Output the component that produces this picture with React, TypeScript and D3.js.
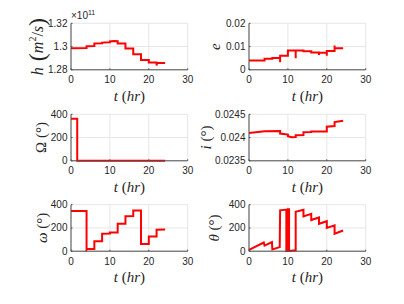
import * as d3 from "d3";

const W = 404;
const H = 304;

// shared time axis
const timeDomain = [0, 30];
const timeTicks = [0, 10, 20, 30];

// h (x 1e11 m^2/s)
const hTime = [0, 4, 4, 6, 6, 8, 8, 10, 10, 11, 12, 12, 14, 14, 16, 16, 18, 18, 20, 20, 22, 22, 22.1, 24.2];
const hValue = [1.2986, 1.2988, 1.3003, 1.3005, 1.3026, 1.3028, 1.3034, 1.3036, 1.3044, 1.3047, 1.3046, 1.3026, 1.3026, 1.2984, 1.2984, 1.2934, 1.2934, 1.2884, 1.2884, 1.2862, 1.2862, 1.2837, 1.2858, 1.2859];
const hTicks = [1.28, 1.3, 1.32];
const hTickLabels = ["1.28", "1.3", "1.32"];

// e
const eTime = [0, 4, 4, 6, 6, 8, 8, 8, 10, 10, 12, 12, 12, 14, 14, 16, 16, 18, 18, 18, 20, 20, 20, 22, 22, 22, 24.2];
const eValue = [0.004, 0.004, 0.0047, 0.0047, 0.0051, 0.0051, 0.0033, 0.006, 0.006, 0.0083, 0.0083, 0.005, 0.0083, 0.0083, 0.008, 0.008, 0.0074, 0.0074, 0.0064, 0.0073, 0.0073, 0.006, 0.0081, 0.0081, 0.0104, 0.0093, 0.0093];
const eTicks = [0, 0.01, 0.02];
const eTickLabels = ["0", "0.01", "0.02"];

// Omega (deg)
const omegaTime = [0, 1.6, 1.6, 24.2];
const omegaValue = [362, 362, 1, 1];
const omegaTicks = [0, 200, 400];
const omegaTickLabels = ["0", "200", "400"];

// i (deg)
const incTime = [0, 4, 8, 8, 10, 10, 11, 12, 12, 14, 14, 16, 16, 20, 20, 22, 22, 24.2];
const incValue = [0.0241, 0.024135, 0.02414, 0.024087, 0.024065, 0.024029, 0.024007, 0.024012, 0.024051, 0.024055, 0.024116, 0.02412, 0.02413, 0.024132, 0.024232, 0.024246, 0.024333, 0.024362];
const incTicks = [0.0235, 0.024, 0.0245];
const incTickLabels = ["0.0235", "0.024", "0.0245"];

// omega (deg)
const argpTime = [0, 4, 4, 4.2, 6, 6, 8, 8, 10, 10, 12, 12, 14, 14, 16, 16, 18, 18, 20, 20, 22, 22, 24.2];
const argpValue = [345, 345, 12, 20, 20, 86, 86, 150, 152, 160, 160, 236, 236, 300, 302, 351, 351, 63, 63, 127, 127, 184, 186];
const argpTicks = [0, 200, 400];
const argpTickLabels = ["0", "200", "400"];

// theta (deg)
const thetaTime = [0, 3.8, 4, 5.9, 6, 7.9, 8, 9.6, 9.6, 10, 10, 10.3, 10.3, 12, 12, 14, 14, 16, 16, 18, 18, 20, 20, 22, 22, 24.2];
const thetaValue = [12, 75, 48, 78, 15, 35, 352, 358, 1, 3, 360, 360, 2, 8, 340, 356, 300, 322, 268, 290, 236, 258, 200, 222, 150, 178];
const thetaTicks = [0, 200, 400];
const thetaTickLabels = ["0", "200", "400"];

const tickFont = "Liberation Sans, Arial, sans-serif";
const mathFont = "Liberation Serif, Times New Roman, serif";

function Panel({ left, top, width, height, time, value, yDomain, yTicks, yTickLabels, yLabel, yLabelX, exponent }: any) {
  const xScale = d3.scaleLinear().domain(timeDomain).range([left, left + width]);
  const yScale = d3.scaleLinear().domain(yDomain).range([top + height, top]);
  const line = d3.line<number>()
    .x((d, i) => xScale(time[i]))
    .y((d) => yScale(d));
  const bottom = top + height;

  return (
    <g>
      {timeTicks.map((t) => (
        <line key={"gx" + t} x1={xScale(t)} x2={xScale(t)} y1={top} y2={bottom} stroke="#e6e6e6" strokeWidth={1} />
      ))}
      {yTicks.map((v: number) => (
        <line key={"gy" + v} x1={left} x2={left + width} y1={yScale(v)} y2={yScale(v)} stroke="#e6e6e6" strokeWidth={1} />
      ))}
      <path d={line(value) || ""} fill="none" stroke="#ff0000" strokeWidth={2} strokeLinejoin="miter" />
      <line x1={left} x2={left + width} y1={bottom} y2={bottom} stroke="#4d4d4d" strokeWidth={1} />
      <line x1={left} x2={left} y1={top} y2={bottom} stroke="#4d4d4d" strokeWidth={1} />
      {timeTicks.map((t) => (
        <g key={"tx" + t}>
          <line x1={xScale(t)} x2={xScale(t)} y1={bottom} y2={bottom - 1.5} stroke="#4d4d4d" />
          <text x={xScale(t)} y={bottom + 13.5} textAnchor="middle" fontFamily={tickFont} fontSize={10} fill="#262626">{t}</text>
        </g>
      ))}
      {yTicks.map((v: number, i: number) => (
        <g key={"ty" + v}>
          <line x1={left} x2={left + 1.5} y1={yScale(v)} y2={yScale(v)} stroke="#4d4d4d" />
          <text x={left - 3.5} y={yScale(v) + 3.5} textAnchor="end" fontFamily={tickFont} fontSize={10} fill="#262626">{yTickLabels[i]}</text>
        </g>
      ))}
      {exponent && (
        <text x={left} y={top - 4} fontFamily={tickFont} fontSize={10} fill="#262626">
          ×10<tspan fontSize={7} dy={-4}>{exponent}</tspan>
        </text>
      )}
      <text x={left + width / 2} y={bottom + 31} textAnchor="middle" fontFamily={mathFont} fontSize={15} fill="#262626">
        <tspan fontStyle="italic">t</tspan> (<tspan fontStyle="italic">hr</tspan>)
      </text>
      <text transform={`translate(${yLabelX},${top + height / 2}) rotate(-90)`} textAnchor="middle" fontFamily={mathFont} fontSize={15} fill="#262626">
        {yLabel}
      </text>
    </g>
  );
}

export default function App() {
  const colLeft = [71, 249];
  const rowTop = [23.3, 114.3, 204.7];
  const pw = 116.7;
  const ph = 46.5;

  return (
    <svg width={W} height={H} style={{ position: "absolute", left: 0, top: 0, background: "#fff" }}>
      <Panel left={colLeft[0]} top={rowTop[0]} width={pw} height={ph} time={hTime} value={hValue}
        yDomain={[1.28, 1.32]} yTicks={hTicks} yTickLabels={hTickLabels} exponent="11" yLabelX={43}
        yLabel={<>
          <tspan fontStyle="italic" fontSize={16}>h</tspan>
          <tspan fontSize={24} dy={2}> (</tspan>
          <tspan fontStyle="italic" fontSize={16} dy={-2}>m</tspan>
          <tspan fontSize={10} dy={-7}>2</tspan>
          <tspan fontSize={16} dy={7}>/</tspan>
          <tspan fontStyle="italic" fontSize={16}>s</tspan>
          <tspan fontSize={24} dy={2}>)</tspan>
        </>} />
      <Panel left={colLeft[1]} top={rowTop[0]} width={pw} height={ph} time={eTime} value={eValue}
        yDomain={[0, 0.02]} yTicks={eTicks} yTickLabels={eTickLabels} yLabelX={220}
        yLabel={<tspan fontStyle="italic">e</tspan>} />
      <Panel left={colLeft[0]} top={rowTop[1]} width={pw} height={ph} time={omegaTime} value={omegaValue}
        yDomain={[0, 400]} yTicks={omegaTicks} yTickLabels={omegaTickLabels} yLabelX={46}
        yLabel={<>Ω (°)</>} />
      <Panel left={colLeft[1]} top={rowTop[1]} width={pw} height={ph} time={incTime} value={incValue}
        yDomain={[0.0235, 0.0245]} yTicks={incTicks} yTickLabels={incTickLabels} yLabelX={211}
        yLabel={<><tspan fontStyle="italic">i</tspan> (°)</>} />
      <Panel left={colLeft[0]} top={rowTop[2]} width={pw} height={ph} time={argpTime} value={argpValue}
        yDomain={[0, 400]} yTicks={argpTicks} yTickLabels={argpTickLabels} yLabelX={47}
        yLabel={<><tspan fontStyle="italic">ω</tspan> (°)</>} />
      <Panel left={colLeft[1]} top={rowTop[2]} width={pw} height={ph} time={thetaTime} value={thetaValue}
        yDomain={[0, 400]} yTicks={thetaTicks} yTickLabels={thetaTickLabels} yLabelX={219}
        yLabel={<><tspan fontStyle="italic">θ</tspan> (°)</>} />
    </svg>
  );
}
